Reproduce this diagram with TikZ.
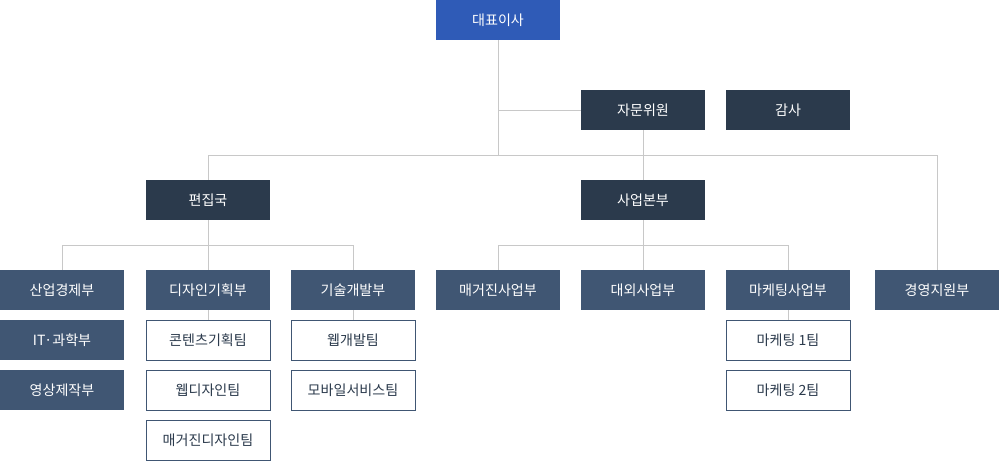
\documentclass[tikz,border=0pt]{standalone}
\usepackage{fontspec}
\newfontfamily\cjk{Noto Sans CJK KR}
\definecolor{ceoBlue}{HTML}{2F5BB7}
\definecolor{darkNavy}{HTML}{2B3A4C}
\definecolor{slate}{HTML}{405673}
\definecolor{lineGray}{HTML}{C8C8C8}
\begin{document}
\begin{tikzpicture}
[x=0.02cm,y=-0.02cm,
 boxDecorate/.style={shape=rectangle,minimum width=2.48cm,minimum height=0.8cm,inner sep=0pt,font=\cjk\fontsize{8}{10}\selectfont},
 ceoDecorate/.style={boxDecorate,fill=ceoBlue,text=white},
 topDecorate/.style={boxDecorate,fill=darkNavy,text=white},
 deptDecorate/.style={boxDecorate,fill=slate,text=white},
 teamDecorate/.style={boxDecorate,fill=white,draw=slate,line width=0.5pt,text=darkNavy},
 lineDecorate/.style={draw=lineGray,line width=0.4pt}]

 \useasboundingbox (0,0) rectangle (1000,460);

 \node (CEO) at (498,20) [ceoDecorate] {대표이사};
 \node (ADV) at (643,110) [topDecorate] {자문위원};
 \node (AUD) at (788,110) [topDecorate] {감사};
 \node (EDT) at (208,200) [topDecorate] {편집국};
 \node (BIZ) at (643,200) [topDecorate] {사업본부};

 \node (D1) at (62,290) [deptDecorate] {산업경제부};
 \node (D2) at (208,290) [deptDecorate] {디자인기획부};
 \node (D3) at (353,290) [deptDecorate] {기술개발부};
 \node (D4) at (498,290) [deptDecorate] {매거진사업부};
 \node (D5) at (643,290) [deptDecorate] {대외사업부};
 \node (D6) at (788,290) [deptDecorate] {마케팅사업부};
 \node (D7) at (937,290) [deptDecorate] {경영지원부};
 \node (D1a) at (62,340) [deptDecorate] {IT·과학부};
 \node (D1b) at (62,390) [deptDecorate] {영상제작부};

 \node (T2a) at (208,340) [teamDecorate] {콘텐츠기획팀};
 \node (T2b) at (208,390) [teamDecorate] {웹디자인팀};
 \node (T2c) at (208,440) [teamDecorate] {매거진디자인팀};
 \node (T3a) at (353,340) [teamDecorate] {웹개발팀};
 \node (T3b) at (353,390) [teamDecorate] {모바일서비스팀};
 \node (T6a) at (788,340) [teamDecorate] {마케팅 1팀};
 \node (T6b) at (788,390) [teamDecorate] {마케팅 2팀};

 \begin{scope}[on background layer/.try]
 \draw[lineDecorate] (CEO.south) -- (498,155);
 \draw[lineDecorate] (498,110) -- (ADV.west);
 \draw[lineDecorate] (208,155) -- (937,155);
 \draw[lineDecorate] (208,155) -- (EDT.north);
 \draw[lineDecorate] (ADV.south) -- (BIZ.north);
 \draw[lineDecorate] (937,155) -- (D7.north);
 \draw[lineDecorate] (EDT.south) -- (208,245);
 \draw[lineDecorate] (62,245) -- (353,245);
 \draw[lineDecorate] (498,245) -- (788,245);
 \draw[lineDecorate] (BIZ.south) -- (643,245);
 \foreach \d/\x in {D1/62,D2/208,D3/353,D4/498,D5/643,D6/788}
  \draw[lineDecorate] (\x,245) -- (\d.north);
 \draw[lineDecorate] (D2.south) -- (T2a.north);
 \draw[lineDecorate] (D3.south) -- (T3a.north);
 \draw[lineDecorate] (D6.south) -- (T6a.north);
 \end{scope}
\end{tikzpicture}
\end{document}
